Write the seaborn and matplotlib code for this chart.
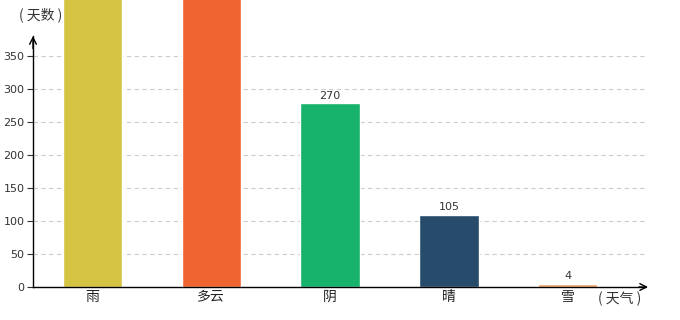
import matplotlib
matplotlib.use("Agg")
import matplotlib.pyplot as plt
import seaborn as sns
import pandas as pd

categories = ["雨", "多云", "阴", "晴", "雪"]
values = [500, 500, 278, 109, 5]
labels = ["", "", "270", "105", "4"]
colors = ["#D5C442", "#F06432", "#17B26C", "#264B6B", "#EFA263"]
yticks = [0, 50, 100, 150, 200, 250, 300, 350]

sns.set_theme(style="white")
plt.rcParams["font.family"] = ["Noto Sans CJK SC", "DejaVu Sans"]

df = pd.DataFrame({"cat": categories, "val": values})

fig = plt.figure(figsize=(6.8, 3.2), dpi=100)
ax = fig.add_axes([33/680, 33/320, (645-33)/680, (287-36)/320])
sns.barplot(data=df, x="cat", y="val", hue="cat", palette=colors, width=0.5,
            legend=False, ax=ax, saturation=1)
for p in ax.patches:
    p.set_clip_on(False)
ax.set_xlim(-0.5, 4.65)
ax.set_ylim(0, 380)
ax.set_yticks(yticks)
ax.set_yticklabels([str(t) for t in yticks], fontsize=8, color="#333333",
                   family="DejaVu Sans")
ax.tick_params(axis="y", length=4, width=0.8, color="#333333", pad=2, left=True)
ax.tick_params(axis="x", length=0, pad=2, labelsize=10, colors="#222222")
ax.set_xlabel("")
ax.set_ylabel("")
ax.yaxis.grid(True, linestyle=(0, (4, 3)), color="#cccccc", linewidth=0.8)
ax.set_axisbelow(True)
for s in ["top", "right"]:
    ax.spines[s].set_visible(False)
ax.spines["left"].set_color("black")
ax.spines["bottom"].set_color("black")
ax.spines["left"].set_linewidth(1)
ax.spines["bottom"].set_linewidth(1)

for i, (v, lab) in enumerate(zip(values, labels)):
    if lab:
        ax.text(i, v + 4, lab, ha="center", va="bottom", fontsize=8,
                color="#333333", family="DejaVu Sans")

# axis arrows
ax.annotate("", xy=(0, 1.0), xytext=(0, 0.95), xycoords="axes fraction",
            arrowprops=dict(arrowstyle="->", color="black", lw=1, shrinkA=0, shrinkB=0),
            annotation_clip=False)
ax.annotate("", xy=(1.005, 0), xytext=(0.99, 0), xycoords="axes fraction",
            arrowprops=dict(arrowstyle="->", color="black", lw=1, shrinkA=0, shrinkB=0),
            annotation_clip=False)

fig.text(41/680, 1 - 15/320, "( 天数 )", ha="center", va="center", fontsize=10,
         color="#333333")
fig.text(620/680, 1 - 299/320, "( 天气 )", ha="center", va="center", fontsize=10,
         color="#333333")

fig.savefig("out.png", dpi=100)
